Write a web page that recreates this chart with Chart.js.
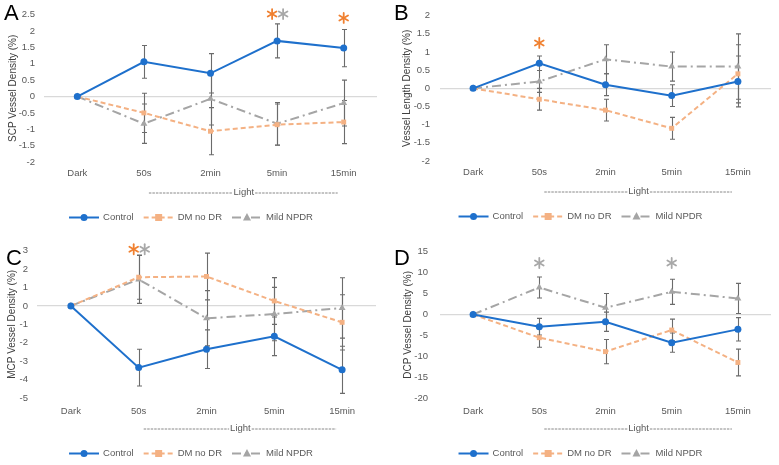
<!DOCTYPE html>
<html>
<head>
<meta charset="utf-8">
<script src="https://cdn.jsdelivr.net/npm/chart.js@4.4.1/dist/chart.umd.min.js"></script>
<style>
  html, body { margin: 0; padding: 0; background: #fff; }
  #wrap { position: relative; width: 779px; height: 465px; overflow: hidden; }
  .panel { position: absolute; }
</style>
</head>
<body>
<div id="wrap">
  <div class="panel" style="left:0;top:0"><canvas id="chartA" width="390" height="232"></canvas></div>
  <div class="panel" style="left:390px;top:0"><canvas id="chartB" width="389" height="232"></canvas></div>
  <div class="panel" style="left:0;top:232px"><canvas id="chartC" width="390" height="233"></canvas></div>
  <div class="panel" style="left:390px;top:232px"><canvas id="chartD" width="389" height="233"></canvas></div>
</div>
<script>
// ========== DATA ==========
const categories = ['Dark', '50s', '2min', '5min', '15min'];
const seriesNames = ['Control', 'DM no DR', 'Mild NPDR'];

// A - SCP vessel density (%)
const controlA = [0, 1.06, 0.71, 1.70, 1.48];
const controlErrA = [0, 0.50, 0.60, 0.52, 0.57];
const dmA = [0, -0.50, -1.06, -0.86, -0.78];
const dmErrA = [0, 0.60, 0.72, 0.63, 0.66];
const npdrA = [0, -0.83, -0.07, -0.83, -0.20];
const npdrErrA = [0, 0.60, 0.80, 0.65, 0.70];
const starCatsA = ['5min', '5min', '15min'];
const starValsA = [2.52, 2.52, 2.4];
const starSeriesA = [1, 2, 1];

// B - vessel length density (%)
const controlB = [0, 0.69, 0.10, -0.20, 0.19];
const controlErrB = [0, 0.20, 0.30, 0.30, 0.70];
const dmB = [0, -0.30, -0.60, -1.10, 0.40];
const dmErrB = [0, 0.30, 0.30, 0.30, 0.80];
const npdrB = [0, 0.19, 0.80, 0.60, 0.60];
const npdrErrB = [0, 0.30, 0.40, 0.40, 0.90];
const starCatsB = ['50s'];
const starValsB = [1.25];
const starSeriesB = [1];

// C - MCP vessel density (%)
const controlC = [0, -3.35, -2.35, -1.65, -3.47];
const controlErrC = [0, 1.00, 1.05, 1.05, 1.28];
const dmC = [0, 1.56, 1.60, 0.27, -0.89];
const dmErrC = [0, 1.20, 1.27, 1.27, 1.50];
const npdrC = [0, 1.44, -0.67, -0.44, -0.11];
const npdrErrC = [0, 1.30, 1.50, 1.45, 1.64];
const starCatsC = ['50s', '50s'];
const starValsC = [3.08, 3.08];
const starSeriesC = [1, 2];

// D - DCP vessel density (%)
const controlD = [0, -2.94, -1.75, -6.76, -3.58];
const controlErrD = [0, 2.0, 2.3, 2.3, 2.8];
const dmD = [0, -5.57, -8.90, -3.74, -11.5];
const dmErrD = [0, 2.3, 2.9, 2.6, 3.2];
const npdrD = [0, 6.44, 1.59, 5.41, 3.82];
const npdrErrD = [0, 2.5, 3.4, 3.0, 3.6];
const starCatsD = ['50s', '5min'];
const starValsD = [12.3, 12.3];
const starSeriesD = [2, 2];

// ========== STYLE ==========
const FONT = '"Liberation Sans", Arial, sans-serif';
const TEXT_COLOR = '#595959';
const lineColors = ['#1e70cc', '#f4b183', '#a5a5a5'];
const starColors = ['#1e70cc', '#f08030', '#a8a8a8'];
const lineDashes = [[], [5, 3], [9, 4, 2, 4]];
const pointStyles = ['circle', 'rect', 'triangle'];
const pointRadii = [3.5, 3.5, 4];
const ERR_COLOR = '#6b6b6b';

function drawMarker(ctx, style, x, y, r, color) {
  ctx.save();
  ctx.fillStyle = color;
  ctx.beginPath();
  if (style === 'circle') {
    ctx.arc(x, y, r, 0, Math.PI * 2);
  } else if (style === 'rect') {
    ctx.rect(x - r, y - r, r * 2, r * 2);
  } else {
    ctx.moveTo(x, y - r * 1.1);
    ctx.lineTo(x + r, y + r * 0.75);
    ctx.lineTo(x - r, y + r * 0.75);
    ctx.closePath();
  }
  ctx.fill();
  ctx.restore();
}

function drawStar(ctx, x, y, color) {
  ctx.save();
  ctx.strokeStyle = color;
  ctx.lineWidth = 1.8;
  ctx.lineCap = 'round';
  const r = 5;
  [90, 30, -30].forEach(a => {
    const rad = a * Math.PI / 180;
    ctx.beginPath();
    ctx.moveTo(x - r * Math.cos(rad), y - r * Math.sin(rad));
    ctx.lineTo(x + r * Math.cos(rad), y + r * Math.sin(rad));
    ctx.stroke();
  });
  ctx.restore();
}

// error bars, stars, panel letter, "Light" label and legend
const extrasPlugin = {
  id: 'extras',
  beforeDatasetsDraw(chart, args, opts) {
    const ctx = chart.ctx;
    const xs = chart.scales.x, ys = chart.scales.y;
    ctx.save();
    ctx.strokeStyle = ERR_COLOR;
    ctx.lineWidth = 1.1;
    opts.errors.forEach((errs, i) => {
      const vals = chart.data.datasets[i].data;
      errs.forEach((e, j) => {
        if (!e) return;
        const x = Math.round(xs.getPixelForValue(j)) + 0.5;
        const y1 = ys.getPixelForValue(vals[j] + e);
        const y2 = ys.getPixelForValue(vals[j] - e);
        ctx.beginPath();
        ctx.moveTo(x, y1); ctx.lineTo(x, y2);
        ctx.moveTo(x - 2.5, y1); ctx.lineTo(x + 2.5, y1);
        ctx.moveTo(x - 2.5, y2); ctx.lineTo(x + 2.5, y2);
        ctx.stroke();
      });
    });
    ctx.restore();
  },
  afterDraw(chart, args, opts) {
    const ctx = chart.ctx;
    const xs = chart.scales.x, ys = chart.scales.y;
    const area = chart.chartArea;

    // significance stars
    opts.starCats.forEach((cat, k) => {
      const same = opts.starCats.filter(c => c === cat).length;
      const idx = opts.starCats.slice(0, k).filter(c => c === cat).length;
      const dx = same > 1 ? (idx === 0 ? -5 : 6) : 0;
      const x = xs.getPixelForValue(categories.indexOf(cat)) + dx;
      const y = ys.getPixelForValue(opts.starVals[k]);
      drawStar(ctx, x, y, starColors[opts.starSeries[k]]);
    });

    // panel letter
    ctx.save();
    ctx.fillStyle = '#000';
    ctx.font = '22px ' + FONT;
    ctx.textBaseline = 'top';
    ctx.fillText(opts.letter, opts.letterPos[0], opts.letterPos[1]);
    ctx.restore();

    // ------Light------ label
    const x0 = xs.getPixelForValue(1) + 5;
    const x1 = xs.getPixelForValue(4) - 6;
    const cx = (xs.getPixelForValue(1) + xs.getPixelForValue(4)) / 2;
    const ly = area.bottom + 30.5;
    ctx.save();
    ctx.font = '9.5px ' + FONT;
    ctx.fillStyle = TEXT_COLOR;
    ctx.textAlign = 'center';
    ctx.textBaseline = 'middle';
    const tw = ctx.measureText('Light').width;
    ctx.fillText('Light', cx, ly);
    ctx.strokeStyle = '#6a6a6a';
    ctx.lineWidth = 0.8;
    ctx.setLineDash([2.5, 1]);
    ctx.beginPath();
    ctx.moveTo(x0, ly + 0.5); ctx.lineTo(cx - tw / 2 - 1, ly + 0.5);
    ctx.moveTo(cx + tw / 2 + 1, ly + 0.5); ctx.lineTo(x1, ly + 0.5);
    ctx.stroke();
    ctx.restore();

    // legend
    ctx.save();
    ctx.font = '9.5px ' + FONT;
    const sym = 30, gap = 4, spacing = 10;
    const widths = seriesNames.map(n => sym + gap + ctx.measureText(n).width);
    const total = widths.reduce((a, b) => a + b, 0) + spacing * (seriesNames.length - 1);
    let lx = chart.width / 2 - total / 2 - 4;
    const legY = area.bottom + 55.5;
    seriesNames.forEach((name, i) => {
      ctx.strokeStyle = lineColors[i];
      ctx.lineWidth = 2;
      ctx.setLineDash(lineDashes[i]);
      ctx.beginPath();
      ctx.moveTo(lx, legY); ctx.lineTo(lx + sym, legY);
      ctx.stroke();
      ctx.setLineDash([]);
      drawMarker(ctx, pointStyles[i], lx + sym / 2, legY, pointRadii[i], lineColors[i]);
      ctx.fillStyle = TEXT_COLOR;
      ctx.textBaseline = 'middle';
      ctx.fillText(name, lx + sym + gap, legY);
      lx += widths[i] + spacing;
    });
    ctx.restore();
  }
};

function makeChart(id, p) {
  const values = [p.control, p.dm, p.npdr];
  return new Chart(document.getElementById(id), {
    type: 'line',
    data: {
      labels: categories,
      datasets: seriesNames.map((name, i) => ({
        label: name,
        data: values[i],
        borderColor: lineColors[i],
        backgroundColor: lineColors[i],
        borderWidth: 2,
        borderDash: lineDashes[i],
        pointStyle: pointStyles[i],
        pointRadius: pointRadii[i],
        pointBorderWidth: 0,
        pointBackgroundColor: lineColors[i],
        tension: 0,
        fill: false,
        clip: false
      }))
    },
    options: {
      responsive: false,
      animation: false,
      events: [],
      layout: { padding: { left: 4, top: p.top, right: p.right, bottom: 0 } },
      plugins: {
        legend: { display: false },
        tooltip: { enabled: false },
        extras: {
          errors: [p.controlErr, p.dmErr, p.npdrErr],
          starCats: p.starCats,
          starVals: p.starVals,
          starSeries: p.starSeries,
          letter: p.letter,
          letterPos: p.letterPos
        }
      },
      scales: {
        x: {
          offset: true,
          grid: { display: false, drawTicks: false },
          border: { display: false },
          ticks: {
            autoSkip: false, maxRotation: 0, padding: p.xPad,
            color: TEXT_COLOR, font: { family: FONT, size: 9.5 }
          },
          afterFit: s => { s.height = p.xHeight; }
        },
        y: {
          min: p.min, max: p.max,
          grid: {
            drawTicks: false,
            color: c => (c.tick && c.tick.value === 0 ? '#d9d9d9' : 'rgba(0,0,0,0)'),
            lineWidth: 1.2
          },
          border: { display: false },
          ticks: {
            stepSize: p.step, padding: p.yPad,
            color: TEXT_COLOR, font: { family: FONT, size: 9.5 },
            callback: v => String(Math.round(v * 100) / 100)
          },
          title: {
            display: true, text: p.yTitle, color: '#404040',
            font: { family: FONT, size: 10 }, padding: p.titlePad
          },
          afterFit: s => { s.width = p.yWidth; }
        }
      }
    },
    plugins: [extrasPlugin]
  });
}

makeChart('chartA', {
  control: controlA, dm: dmA, npdr: npdrA,
  controlErr: controlErrA, dmErr: dmErrA, npdrErr: npdrErrA,
  starCats: starCatsA, starVals: starValsA, starSeries: starSeriesA,
  min: -2, max: 2.5, step: 0.5,
  yTitle: 'SCP Vessel Density (%)', letter: 'A', letterPos: [4, 3],
  top: 13, right: 13, xHeight: 70, yWidth: 40, yPad: 9, xPad: 6, titlePad: 3
});

makeChart('chartB', {
  control: controlB, dm: dmB, npdr: npdrB,
  controlErr: controlErrB, dmErr: dmErrB, npdrErr: npdrErrB,
  starCats: starCatsB, starVals: starValsB, starSeries: starSeriesB,
  min: -2, max: 2, step: 0.5,
  yTitle: 'Vessel Length Density (%)', letter: 'B', letterPos: [4, 3],
  top: 14, right: 8, xHeight: 71, yWidth: 46, yPad: 10, xPad: 6, titlePad: 7
});

makeChart('chartC', {
  control: controlC, dm: dmC, npdr: npdrC,
  controlErr: controlErrC, dmErr: dmErrC, npdrErr: npdrErrC,
  starCats: starCatsC, starVals: starValsC, starSeries: starSeriesC,
  min: -5, max: 3, step: 1,
  yTitle: 'MCP Vessel Density (%)', letter: 'C', letterPos: [6, 16],
  top: 18.7, right: 14, xHeight: 67, yWidth: 33, yPad: 9, xPad: 8, titlePad: 2
});

makeChart('chartD', {
  control: controlD, dm: dmD, npdr: npdrD,
  controlErr: controlErrD, dmErr: dmErrD, npdrErr: npdrErrD,
  starCats: starCatsD, starVals: starValsD, starSeries: starSeriesD,
  min: -20, max: 15, step: 5,
  yTitle: 'DCP Vessel Density (%)', letter: 'D', letterPos: [4, 16],
  top: 19.7, right: 8, xHeight: 67, yWidth: 46, yPad: 12, xPad: 8, titlePad: 8
});
</script>
</body>
</html>
